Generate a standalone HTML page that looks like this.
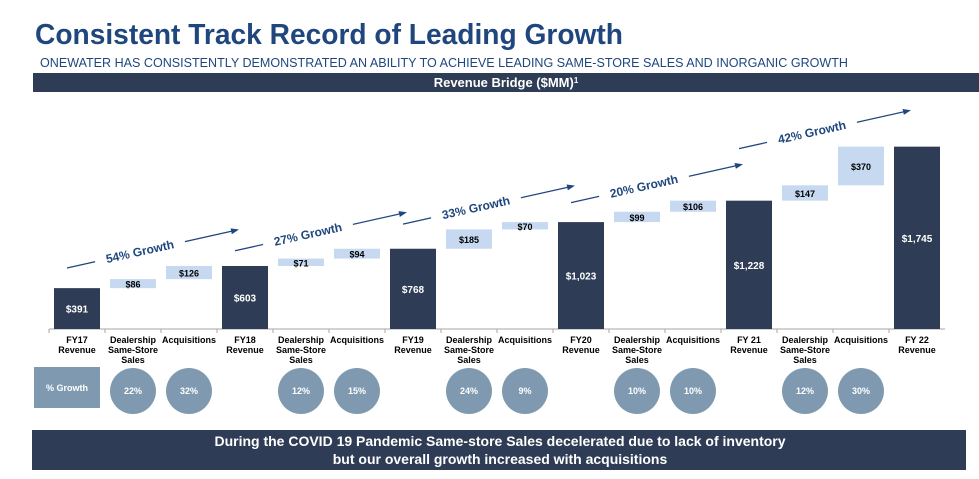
<!DOCTYPE html>
<html><head><meta charset="utf-8"><style>
html,body{margin:0;padding:0;background:#fff;}
svg{display:block;font-family:"Liberation Sans",Arial,sans-serif;}
</style></head><body>
<svg id="chart" width="979" height="479" viewBox="0 0 979 479" xmlns="http://www.w3.org/2000/svg">
<text x="35" y="44" font-size="29" font-weight="bold" fill="#1f477e" textLength="588" lengthAdjust="spacingAndGlyphs">Consistent Track Record of Leading Growth</text>
<text x="40" y="67" font-size="12.5" fill="#1f477e" textLength="808" lengthAdjust="spacingAndGlyphs">ONEWATER HAS CONSISTENTLY DEMONSTRATED AN ABILITY TO ACHIEVE LEADING SAME-STORE SALES AND INORGANIC GROWTH</text>
<rect x="33" y="73" width="946" height="19" fill="#2e3d55"/>
<text x="506" y="87" font-size="13" font-weight="bold" fill="#fff" text-anchor="middle">Revenue Bridge ($MM)<tspan font-size="8" dy="-4">1</tspan></text>
<g id="marks"></g>
<rect x="32" y="430" width="934" height="40" fill="#2e3d55"/>
<text x="500" y="446" font-size="14" font-weight="bold" fill="#fff" text-anchor="middle">During the COVID 19 Pandemic Same-store Sales decelerated due to lack of inventory</text>
<text x="500" y="464" font-size="14" font-weight="bold" fill="#fff" text-anchor="middle">but our overall growth increased with acquisitions</text>
</svg>
<script>
const categories = ["FY17|Revenue","Dealership|Same-Store|Sales","Acquisitions","FY18|Revenue","Dealership|Same-Store|Sales","Acquisitions","FY19|Revenue","Dealership|Same-Store|Sales","Acquisitions","FY20|Revenue","Dealership|Same-Store|Sales","Acquisitions","FY 21|Revenue","Dealership|Same-Store|Sales","Acquisitions","FY 22|Revenue"];
const values = [391,86,126,603,71,94,768,185,70,1023,99,106,1228,147,370,1745];
const labels = ["$391","$86","$126","$603","$71","$94","$768","$185","$70","$1,023","$99","$106","$1,228","$147","$370","$1,745"];
const isTotal = [1,0,0,1,0,0,1,0,0,1,0,0,1,0,0,1];
const growthPct = ["","22%","32%","","12%","15%","","24%","9%","","10%","10%","","12%","30%",""];
const periodGrowth = ["54% Growth","27% Growth","33% Growth","20% Growth","42% Growth"];

const NS="http://www.w3.org/2000/svg";
const g=document.getElementById('marks');
const x0=49, slot=56, base=329, k=0.1045, bw=46;
const xc=i=>x0+slot*(i+0.5);
const y=v=>base-v*k;
function mk(t,a,p){const e=document.createElementNS(NS,t);for(const n in a)e.setAttribute(n,a[n]);(p||g).appendChild(e);return e;}

const ax=mk('line',{x1:x0,y1:base,x2:x0+slot*categories.length,y2:base,stroke:'#a6a6a6','stroke-width':1});


let run=0;
categories.forEach((c,i)=>{
  const tk=mk('line',{x1:x0+slot*i,y1:base,x2:x0+slot*i,y2:base+4,stroke:'#a6a6a6'});
  
  
  let top,bot;
  if(isTotal[i]){run=values[i];top=y(run);bot=base;}
  else{bot=y(run);run+=values[i];top=y(run);}
  const r=mk('rect',{x:xc(i)-bw/2,y:top,width:bw,height:Math.max(bot-top,1),fill:isTotal[i]?'#2e3d55':'#c6d9f0'});
  
  
  const lt=mk('text',{x:xc(i),y:(top+bot)/2+4,'font-size':isTotal[i]?10:9,'font-weight':'bold',fill:isTotal[i]?'#fff':'#000','text-anchor':'middle'});
  lt.textContent=labels[i];
  
  
  const lines=c.split('|');
  const ct=mk('text',{x:xc(i),y:base+14,'font-size':9,'font-weight':'bold',fill:'#000','text-anchor':'middle'});
  
  
  lines.forEach((l,j)=>{const s=mk('tspan',{x:xc(i),dy:j?10:0},ct);s.textContent=l;});
  if(growthPct[i]){
    const ci=mk('circle',{cx:xc(i),cy:391,r:23,fill:'#7f9ab0'});
    
    
    const gt=mk('text',{x:xc(i),y:394,'font-size':9,'font-weight':'bold',fill:'#fff','text-anchor':'middle'});
    gt.textContent=growthPct[i];
    
    
  }
});
const gr=mk('rect',{x:34,y:367,width:66,height:41,fill:'#7f9ab0'});


const grt=mk('text',{x:67,y:391,'font-size':9,'font-weight':'bold',fill:'#fff','text-anchor':'middle'});
grt.textContent='% Growth';



const defs=mk('defs',{});
const m=mk('marker',{id:'ah',markerWidth:8,markerHeight:8,refX:6,refY:3,orient:'auto',markerUnits:'userSpaceOnUse'},defs);
mk('path',{d:'M0,0 L8,3 L0,6 Z',fill:'#1f477e'},m);
periodGrowth.forEach((t,p)=>{
  const i0=p*3, i1=p*3+3;
  const x1=xc(i0)-10, x2=xc(i0)+slot*3-8;
  const yb=y(values[i1])-36, ya=yb+38;
  const mx=(x1+x2)/2-12, my=ya+(yb-ya)*((mx-x1)/(x2-x1));
  const ang=Math.atan2(yb-ya,x2-x1)*180/Math.PI;
  const ln=mk('line',{x1:x1,y1:ya,x2:x2,y2:yb,stroke:'#1f477e','stroke-width':1.3,'marker-end':'url(#ah)'});
  
  
  const bg=mk('rect',{x:mx-46,y:my-9,width:92,height:16,fill:'#fff',transform:`rotate(${ang} ${mx} ${my})`});
  
  
  const tx=mk('text',{x:mx,y:my+4,'font-size':12,'font-weight':'bold',fill:'#1f477e','text-anchor':'middle',transform:`rotate(${ang} ${mx} ${my})`});
  tx.textContent=t;
  
  
});
</script>
</body></html>
